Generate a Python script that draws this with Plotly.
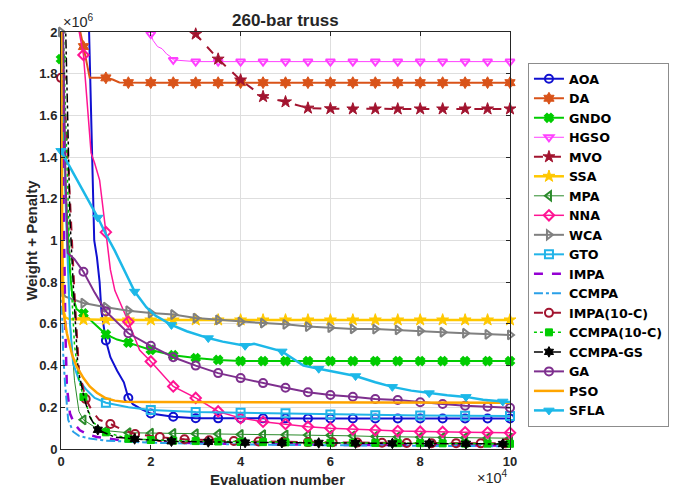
import plotly.graph_objects as go

# ---------------- data (x in 1e4 evaluations, y in 1e6) ----------------
NAMES = ["AOA", "DA", "GNDO", "HGSO", "MVO", "SSA", "MPA", "NNA", "WCA", "GTO",
         "IMPA", "CCMPA", "IMPA(10-C)", "CCMPA(10-C)", "CCMPA-GS", "GA", "PSO", "SFLA"]

TAIL05 = [2.0, 2.5, 3.0, 3.5, 4.0, 4.5, 5.0, 5.5, 6.0, 6.5, 7.0, 7.5, 8.0, 8.5, 9.0, 9.5, 10.0]

AOA_X = [0, 0.5, 0.62, 0.68, 0.74, 0.8, 0.86, 0.9, 1.0, 1.1, 1.25, 1.4, 1.5, 1.6, 1.8] + TAIL05
AOA_Y = [4.5, 2.6, 2.05, 1.5, 1.0, 0.92, 0.8, 0.66, 0.52, 0.44, 0.375, 0.32, 0.245, 0.215, 0.19,
         0.17, 0.155, 0.148, 0.147, 0.147, 0.147, 0.147, 0.146, 0.146, 0.146, 0.146, 0.146, 0.146, 0.146, 0.146, 0.146, 0.146]

DA_X = [0, 0.4, 0.5, 0.56, 0.64, 1.0, 1.15, 1.3, 1.5] + TAIL05
DA_Y = [3.5, 2.03, 1.93, 1.87, 1.78, 1.78, 1.772, 1.758, 1.757] + [1.757] * 17

GNDO_X = [0, 0.1, 0.2, 0.25, 0.35, 0.5, 0.75, 1.0, 1.25, 1.5] + TAIL05
GNDO_Y = [1.87, 1.25, 0.85, 0.74, 0.67, 0.65, 0.6, 0.55, 0.525, 0.51,
          0.475, 0.45, 0.436, 0.427, 0.422, 0.422, 0.422, 0.422, 0.422, 0.422, 0.422, 0.422, 0.422, 0.422, 0.422, 0.422, 0.422]

HGSO_X = [0, 0.5, 1.0, 1.5, 1.9, 2.0, 2.05, 2.15, 2.25, 2.35, 2.45, 2.5, 3.0, 3.5, 4.0, 4.5, 5.0, 5.5,
          6.0, 6.5, 7.0, 7.5, 8.0, 8.5, 9.0, 9.5, 10.0]
HGSO_Y = [4.0, 3.2, 2.6, 2.2, 2.05, 1.99, 1.96, 1.93, 1.92, 1.895, 1.88, 1.866, 1.858, 1.858, 1.858, 1.858,
          1.858, 1.858, 1.858, 1.858, 1.858, 1.858, 1.858, 1.858, 1.858, 1.858, 1.858]

MVO_X = [0, 0.5, 1.0, 1.5] + TAIL05
MVO_Y = [4.0, 3.3, 2.8, 2.45, 2.2, 2.06, 1.99, 1.87, 1.77, 1.69, 1.665, 1.635, 1.632, 1.631,
         1.631, 1.631, 1.631, 1.631, 1.631, 1.631, 1.631]

SSA_X = [0, 0.03, 0.06, 0.1, 0.2, 0.5, 1.0, 1.5] + TAIL05
SSA_Y = [2.5, 1.0, 0.66, 0.63, 0.622, 0.62, 0.62, 0.619] + [0.619] * 17

MPA_X = [0, 0.1, 0.2, 0.3, 0.4, 0.5, 0.75, 1.0, 1.5] + TAIL05
MPA_Y = [2.6, 1.3, 0.62, 0.33, 0.18, 0.14, 0.105, 0.088, 0.078,
         0.076, 0.075, 0.073, 0.072, 0.07, 0.069, 0.068, 0.067, 0.066, 0.063, 0.06, 0.058, 0.056, 0.055, 0.054, 0.053, 0.052]

NNA_X = [0, 0.38, 0.5, 0.67, 0.75, 0.86, 1.0, 1.05, 1.1, 1.2, 1.5, 1.75] + TAIL05
NNA_Y = [4.0, 2.03, 1.89, 1.42, 1.37, 1.29, 1.04, 0.95, 0.86, 0.76, 0.61, 0.475,
         0.42, 0.30, 0.245, 0.18, 0.148, 0.131, 0.12, 0.107, 0.10, 0.094, 0.091, 0.086, 0.083, 0.082, 0.08, 0.079, 0.078]

WCA_X = [0, 0.02, 0.1, 0.3, 0.5, 1.0, 1.5] + TAIL05
WCA_Y = [2.0, 0.76, 0.73, 0.715, 0.70, 0.68, 0.663,
         0.652, 0.645, 0.628, 0.619, 0.61, 0.604, 0.598, 0.587, 0.582, 0.576, 0.575, 0.571, 0.566, 0.56, 0.555, 0.55, 0.547]

GTO_X = [0, 0.1, 0.2, 0.27, 0.4, 0.57, 0.75, 1.0, 1.5, 2.0, 3.0, 4.0, 5.0, 6.0, 7.0, 8.0, 9.0, 10.0]
GTO_Y = [2.3, 1.2, 0.6, 0.41, 0.33, 0.283, 0.245, 0.222, 0.2, 0.187, 0.177, 0.174, 0.171, 0.166, 0.162, 0.161, 0.16, 0.158]

IMPA_X = [0, 0.05, 0.1, 0.13, 0.2, 0.3, 0.42, 0.6, 0.8, 1.0, 1.4, 2.0, 3.0, 4.0, 6.0, 8.0, 10.0]
IMPA_Y = [2.6, 1.3, 0.55, 0.3, 0.17, 0.12, 0.09, 0.07, 0.058, 0.052, 0.04, 0.033, 0.028, 0.024, 0.02, 0.018, 0.016]

CCMPA_X = [0, 0.015, 0.025, 0.05, 0.09, 0.16, 0.27, 0.4, 0.64, 1.0, 1.4, 2.0, 3.0, 4.0, 6.0, 8.0, 10.0]
CCMPA_Y = [2.5, 1.2, 0.64, 0.45, 0.315, 0.14, 0.083, 0.063, 0.05, 0.04, 0.035, 0.03, 0.026, 0.022, 0.018, 0.015, 0.013]

IMPA10_X = [0, 0.1, 0.2, 0.3, 0.4, 0.55, 0.7, 0.85, 1.1, 1.4, 1.65, 2.2, 2.75, 3.3, 3.85, 4.4, 4.95,
            5.5, 6.05, 6.6, 7.15, 7.7, 8.25, 8.8, 9.35, 9.9, 10.0]
IMPA10_Y = [1.78, 1.6, 1.2, 0.75, 0.38, 0.24, 0.18, 0.14, 0.12, 0.09, 0.072, 0.057, 0.047, 0.042, 0.038,
            0.036, 0.034, 0.033, 0.032, 0.031, 0.03, 0.029, 0.028, 0.028, 0.027, 0.027, 0.027]

CCMPA10_X = [0, 0.1, 0.2, 0.3, 0.4, 0.5, 0.7, 1.0, 1.5] + TAIL05
CCMPA10_Y = [2.5, 1.6, 0.9, 0.5, 0.33, 0.25, 0.13, 0.08, 0.049,
             0.043, 0.04, 0.038, 0.036, 0.034, 0.033, 0.032, 0.031, 0.03, 0.03, 0.029, 0.028, 0.028, 0.027, 0.026, 0.026, 0.025]

CCMPAGS_X = [0, 0.1, 0.2, 0.27, 0.33, 0.38, 0.53, 0.65, 0.82, 1.2, 1.64, 2.46, 3.28, 4.1, 4.92, 5.74,
             6.56, 7.38, 8.2, 9.02, 9.84, 10.0]
CCMPAGS_Y = [3.0, 2.0, 1.1, 0.8, 0.55, 0.38, 0.233, 0.15, 0.092, 0.057, 0.048, 0.037, 0.034, 0.031, 0.03,
             0.029, 0.028, 0.027, 0.026, 0.025, 0.024, 0.024]

GA_X = [0, 0.05, 0.1, 0.15, 0.3, 0.5, 0.75, 1.0, 1.5] + TAIL05
GA_Y = [2.6, 2.0, 1.3, 0.94, 0.91, 0.85, 0.75, 0.66, 0.555,
        0.495, 0.44, 0.40, 0.364, 0.34, 0.316, 0.294, 0.272, 0.259, 0.251, 0.24, 0.235, 0.224, 0.216, 0.208, 0.203, 0.198]

PSO_X = [0, 0.01, 0.02, 0.06, 0.13, 0.25, 0.35, 0.5, 0.64, 0.8, 1.0, 1.2, 1.4, 2.0, 4.0, 6.0, 8.0, 10.0]
PSO_Y = [2.5, 1.4, 0.8, 0.65, 0.555, 0.45, 0.395, 0.34, 0.30, 0.27, 0.243, 0.232, 0.227, 0.225, 0.224, 0.224, 0.223, 0.222]

SFLA_X = [0, 0.3, 0.64, 0.82, 1.0, 1.2, 1.4, 1.64, 1.9, 2.1, 2.46, 2.8, 3.28, 3.6, 4.1, 4.3, 4.92, 5.2, 5.4,
          5.74, 6.1, 6.56, 7.0, 7.38, 7.8, 8.2, 8.6, 9.02, 9.4, 9.84, 10.0]
SFLA_Y = [1.43, 1.31, 1.18, 1.11, 1.03, 0.95, 0.86, 0.755, 0.68, 0.64, 0.595, 0.565, 0.532, 0.515, 0.495, 0.505,
          0.468, 0.43, 0.40, 0.385, 0.37, 0.35, 0.32, 0.298, 0.28, 0.268, 0.258, 0.25, 0.236, 0.228, 0.226]

DATA = {
    "AOA": (AOA_X, AOA_Y), "DA": (DA_X, DA_Y), "GNDO": (GNDO_X, GNDO_Y), "HGSO": (HGSO_X, HGSO_Y),
    "MVO": (MVO_X, MVO_Y), "SSA": (SSA_X, SSA_Y), "MPA": (MPA_X, MPA_Y), "NNA": (NNA_X, NNA_Y),
    "WCA": (WCA_X, WCA_Y), "GTO": (GTO_X, GTO_Y), "IMPA": (IMPA_X, IMPA_Y), "CCMPA": (CCMPA_X, CCMPA_Y),
    "IMPA(10-C)": (IMPA10_X, IMPA10_Y), "CCMPA(10-C)": (CCMPA10_X, CCMPA10_Y),
    "CCMPA-GS": (CCMPAGS_X, CCMPAGS_Y), "GA": (GA_X, GA_Y), "PSO": (PSO_X, PSO_Y), "SFLA": (SFLA_X, SFLA_Y),
}

# ---------------- styles ----------------
# name: (color, line width, dash, symbol, marker size, marker step)
STYLE = {
    "AOA": ("#1010D0", 2, "solid", "circle-open", 8, 0.5),
    "DA": ("#D95319", 2, "solid", "hexagram", 9, 0.5),
    "GNDO": ("#00CC00", 2, "solid", "x", 7, 0.5),
    "HGSO": ("#FF40FF", 1, "solid", "triangle-down-open", 8, 0.5),
    "MVO": ("#A2142F", 2, "dash", "star", 9, 0.5),
    "SSA": ("#FFC800", 2.5, "solid", "star", 9, 0.5),
    "MPA": ("#2A8A2A", 1, "solid", "triangle-left-open", 8, 0.5),
    "NNA": ("#FF1493", 1.5, "solid", "diamond-open", 8, 0.5),
    "WCA": ("#808080", 2, "solid", "triangle-right-open", 8, 0.5),
    "GTO": ("#22B4E8", 2, "solid", "square-open", 8, 1.0),
    "IMPA": ("#9400D3", 2.5, "dash", None, 0, None),
    "CCMPA": ("#2AA0E8", 2, "dashdot", None, 0, None),
    "IMPA(10-C)": ("#A2142F", 2, "dash", "circle-open", 8, 0.55),
    "CCMPA(10-C)": ("#00CC00", 1.5, "dot", "square", 7, 0.5),
    "CCMPA-GS": ("#000000", 1.5, "dashdot", "hexagram", 8, 0.82),
    "GA": ("#7E2F8E", 2, "solid", "circle-open", 8, 0.5),
    "PSO": ("#FFA500", 2.5, "solid", None, 0, None),
    "SFLA": ("#1CB8E8", 2.5, "solid", "triangle-down", 9, 0.82),
}

YMAX = 2.0
FONT = "Liberation Sans, Arial, sans-serif"
LEGEND_FONT = "DejaVu Sans, Liberation Sans, sans-serif"
INK = "#262626"

fig = go.Figure()

for name in NAMES:
    xs, ys = DATA[name]
    color, lw, dash, sym, msz, step = STYLE[name]
    if sym is None:
        fig.add_trace(go.Scatter(x=xs, y=ys, mode="lines", showlegend=False,
                                 line=dict(color=color, width=lw, dash=dash), hoverinfo="skip"))
        fig.add_trace(go.Scatter(x=[None], y=[None], mode="lines", name=name,
                                 line=dict(color=color, width=lw, dash=dash)))
    else:
        op = []
        for x, y in zip(xs, ys):
            k = round(x / step)
            on = abs(x - k * step) < 1e-6 and y <= YMAX
            op.append(1 if on else 0)
        mline = 2 if "open" in sym or sym == "x" else 1
        fig.add_trace(go.Scatter(
            x=xs, y=ys, mode="lines+markers", showlegend=False, cliponaxis=False,
            line=dict(color=color, width=lw, dash=dash),
            marker=dict(symbol=sym, size=msz, color=color, opacity=op,
                        line=dict(color=color, width=mline)),
            hoverinfo="skip"))
        fig.add_trace(go.Scatter(
            x=[None], y=[None], mode="lines+markers", name=name,
            line=dict(color=color, width=lw, dash=dash),
            marker=dict(symbol=sym, size=msz, color=color, line=dict(color=color, width=mline))))

axis_common = dict(
    showgrid=True, gridcolor="#dedede", gridwidth=1, zeroline=False,
    showline=True, linecolor=INK, linewidth=1, mirror="ticks",
    ticks="inside", ticklen=4, tickcolor=INK,
    tickfont=dict(family=FONT, size=13, color=INK, weight="bold"),
)

fig.update_xaxes(range=[0, 10], dtick=2, tick0=0, **axis_common)
fig.update_yaxes(range=[0, 2], dtick=0.2, tick0=0, **axis_common)

# axis titles, exponent labels and title
fig.add_annotation(xref="paper", yref="paper", x=0.483, y=-0.072, xanchor="center", yanchor="middle",
                   text="Evaluation number", showarrow=False,
                   font=dict(family=FONT, size=15, color=INK, weight="bold"))
fig.add_annotation(xref="paper", yref="paper", x=-0.0665, y=0.5, xanchor="center", yanchor="middle",
                   text="Weight + Penalty", textangle=-90, showarrow=False,
                   font=dict(family=FONT, size=15, color=INK, weight="bold"))
fig.add_annotation(xref="paper", yref="paper", x=0, y=1, xanchor="left", yanchor="bottom",
                   text="\u00d710<sup>6</sup>", showarrow=False,
                   font=dict(family=FONT, size=14.5, color=INK))
fig.add_annotation(xref="paper", yref="paper", x=1, y=-0.066, xanchor="right", yanchor="middle",
                   text="\u00d710<sup>4</sup>", showarrow=False,
                   font=dict(family=FONT, size=14.5, color=INK))
fig.add_annotation(xref="paper", yref="paper", x=0.5, y=1.027, xanchor="center", yanchor="middle",
                   text="260-bar truss", showarrow=False,
                   font=dict(family=FONT, size=17, color=INK, weight="bold"))

fig.update_layout(
    width=681, height=493,
    margin=dict(l=61, r=169, t=32, b=44),
    paper_bgcolor="white", plot_bgcolor="white",
    showlegend=True,
    legend=dict(x=1.04, y=0.9257, xanchor="left", yanchor="top",
                bgcolor="white", bordercolor="#8c8c8c", borderwidth=1,
                font=dict(family=LEGEND_FONT, size=12.7, color="#000000", weight="bold"),
                tracegroupgap=0, itemsizing="trace"),
)

fig.write_html("out.html")
